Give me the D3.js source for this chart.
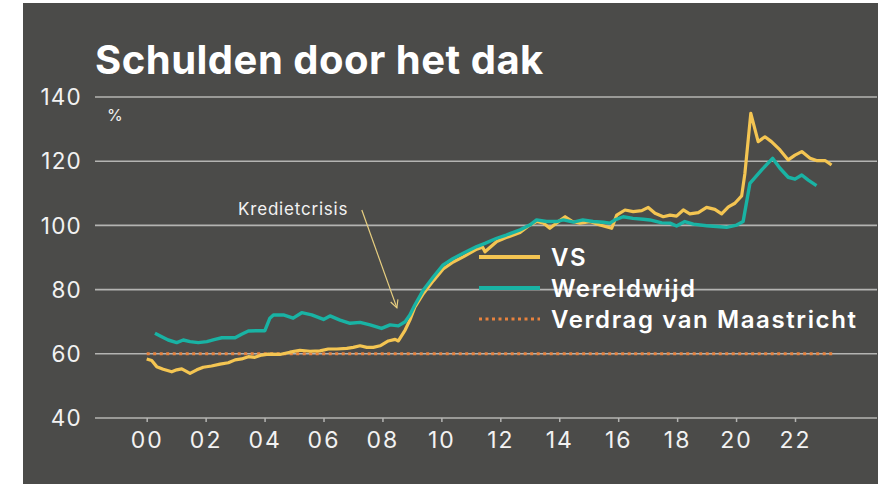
<!DOCTYPE html>
<html>
<head>
<meta charset="utf-8">
<script src="https://cdn.jsdelivr.net/npm/d3@7"></script>
<style>
  body { margin: 0; background: #fff; }
  svg { display: block; font-family: Inter, "Open Sans", sans-serif; }
</style>
</head>
<body>
<svg id="chart" width="889" height="484"></svg>
<script>
// quarterly-ish readings, [year, % of GDP]
const vs = [
  [2000.0, 58.4], [2000.17, 57.9], [2000.34, 56.0], [2000.56, 55.2], [2000.85, 54.4],
  [2001.02, 55.0], [2001.19, 55.3], [2001.47, 53.9], [2001.7, 55.0], [2001.92, 55.8],
  [2002.2, 56.2], [2002.49, 56.8], [2002.77, 57.2], [2003.0, 58.1], [2003.22, 58.4],
  [2003.45, 59.1], [2003.67, 58.9], [2003.9, 59.6], [2004.13, 59.9], [2004.52, 59.8],
  [2004.86, 60.5], [2005.2, 61.1], [2005.54, 60.8], [2005.88, 60.9], [2006.16, 61.5],
  [2006.45, 61.5], [2006.79, 61.7], [2007.01, 62.0], [2007.24, 62.5], [2007.47, 62.0],
  [2007.69, 62.0], [2007.92, 62.5], [2008.2, 64.0], [2008.43, 64.5], [2008.54, 64.0],
  [2008.77, 67.4], [2008.93, 70.5], [2009.1, 74.5], [2009.39, 78.8], [2009.73, 82.8],
  [2010.06, 86.4], [2010.4, 88.6], [2010.74, 90.2], [2011.2, 92.6], [2011.4, 93.2],
  [2011.48, 91.8], [2011.88, 95.0], [2012.2, 96.2], [2012.67, 97.8], [2013.0, 100.1],
  [2013.23, 101.2], [2013.45, 100.8], [2013.68, 99.1], [2013.9, 100.7], [2014.2, 102.7],
  [2014.45, 101.2], [2014.7, 100.7], [2015.04, 101.2], [2015.38, 100.1], [2015.78, 99.1],
  [2015.95, 103.2], [2016.23, 104.8], [2016.51, 104.3], [2016.8, 104.6], [2017.02, 105.6],
  [2017.25, 103.8], [2017.53, 102.7], [2017.76, 103.2], [2017.98, 102.9], [2018.21, 104.8],
  [2018.43, 103.6], [2018.72, 104.0], [2019.0, 105.6], [2019.28, 105.0], [2019.51, 103.6],
  [2019.74, 105.8], [2019.96, 106.9], [2020.19, 109.2], [2020.3, 116.2], [2020.5, 134.9],
  [2020.75, 126.1], [2020.98, 127.6], [2021.2, 126.1], [2021.49, 123.5], [2021.77, 120.4],
  [2022.0, 121.9], [2022.23, 123.0], [2022.51, 120.9], [2022.73, 120.2], [2023.02, 120.2],
  [2023.24, 118.8]
];

const wereldwijd = [
  [2000.28, 66.4], [2000.51, 65.3], [2000.73, 64.3], [2001.02, 63.5], [2001.24, 64.3],
  [2001.47, 63.8], [2001.75, 63.5], [2002.04, 63.8], [2002.32, 64.5], [2002.55, 65.0],
  [2002.77, 65.0], [2003.0, 65.0], [2003.22, 66.1], [2003.45, 67.1], [2003.73, 67.2],
  [2004.01, 67.2], [2004.18, 71.1], [2004.3, 72.1], [2004.64, 72.1], [2004.97, 71.1],
  [2005.26, 72.8], [2005.6, 72.1], [2006.0, 70.7], [2006.22, 71.8], [2006.56, 70.5],
  [2006.9, 69.5], [2007.24, 69.8], [2007.58, 69.0], [2007.97, 67.9], [2008.26, 69.0],
  [2008.54, 68.7], [2008.77, 70.0], [2008.93, 72.1], [2009.1, 75.2], [2009.39, 79.9],
  [2009.73, 84.0], [2010.06, 87.7], [2010.4, 89.7], [2010.74, 91.3], [2011.2, 93.4],
  [2011.48, 94.4], [2011.88, 96.0], [2012.2, 97.0], [2012.67, 98.6], [2013.0, 100.1],
  [2013.23, 101.7], [2013.57, 101.2], [2013.9, 101.2], [2014.14, 101.7], [2014.48, 101.0],
  [2014.8, 101.7], [2015.15, 101.2], [2015.5, 101.0], [2015.72, 100.7], [2015.89, 101.7],
  [2016.17, 102.7], [2016.5, 102.2], [2016.85, 101.9], [2017.08, 101.7], [2017.48, 100.8],
  [2017.76, 100.7], [2017.98, 99.8], [2018.26, 101.2], [2018.55, 100.4], [2019.0, 99.9],
  [2019.45, 99.6], [2019.68, 99.4], [2020.02, 100.1], [2020.24, 101.2], [2020.47, 113.1],
  [2020.87, 117.3], [2021.24, 120.9], [2021.49, 117.8], [2021.77, 115.0], [2022.0, 114.4],
  [2022.23, 115.7], [2022.45, 114.1], [2022.73, 112.4]
];

const maastricht = [[2000.0, 60], [2023.35, 60]];

const yTicks = [40, 60, 80, 100, 120, 140];
const xTicks = [2000, 2002, 2004, 2006, 2008, 2010, 2012, 2014, 2016, 2018, 2020, 2022];
const legendItems = ["VS", "Wereldwijd", "Verdrag van Maastricht"];

const svg = d3.select("#chart");

svg.append("rect")
  .attr("x", 23).attr("y", 3)
  .attr("width", 855).attr("height", 481)
  .attr("fill", "#4b4b49");

const x = d3.scaleLinear().domain([2000, 2022]).range([146.7, 795]);
const y = d3.scaleLinear().domain([40, 140]).range([418, 97]);

// gridlines
svg.append("g")
  .selectAll("line")
  .data(yTicks)
  .join("line")
  .attr("x1", 95).attr("x2", 877)
  .attr("y1", d => y(d)).attr("y2", d => y(d))
  .attr("stroke", "#b4b4b2")
  .attr("stroke-width", 1.6);

// y labels
svg.append("g")
  .selectAll("text")
  .data(yTicks)
  .join("text")
  .attr("x", 82)
  .attr("y", d => y(d))
  .attr("dy", "0.36em")
  .attr("text-anchor", "end")
  .attr("fill", "#f2f2f2")
  .style("font-size", "22.5px")
  .style("letter-spacing", "1.2px")
  .text(d => d);

// x axis
const xAxis = d3.axisBottom(x)
  .tickValues(xTicks)
  .tickSize(4)
  .tickFormat(d => String(d % 100).padStart(2, "0"));

const gx = svg.append("g")
  .attr("transform", `translate(0,${y(40)})`)
  .call(xAxis);
gx.select(".domain").remove();
gx.selectAll(".tick line").attr("stroke", "#b4b4b2").attr("stroke-width", 1.5);
gx.selectAll(".tick text")
  .attr("fill", "#f2f2f2")
  .attr("y", 14)
  .attr("dy", "0.71em")
  .style("font-size", "23px")
  .style("letter-spacing", "2px")
  .style("font-family", "Inter, sans-serif");

svg.append("text")
  .attr("x", 107).attr("y", 121)
  .attr("fill", "#f2f2f2")
  .style("font-size", "16px")
  .text("%");

// title
svg.append("text")
  .attr("x", 95).attr("y", 74)
  .attr("fill", "#ffffff")
  .style("font-size", "40px")
  .style("font-weight", 700)
  .style("letter-spacing", "0.5px")
  .text("Schulden door het dak");

const line = d3.line()
  .x(d => x(d[0]))
  .y(d => y(d[1]));

svg.append("path")
  .datum(maastricht)
  .attr("d", line)
  .attr("fill", "none")
  .attr("stroke", "#e8823e")
  .attr("stroke-width", 3)
  .attr("stroke-dasharray", "3,3.5");

svg.append("path")
  .datum(vs)
  .attr("d", line)
  .attr("fill", "none")
  .attr("stroke", "#f4c552")
  .attr("stroke-width", 3.2)
  .attr("stroke-linejoin", "round");

svg.append("path")
  .datum(wereldwijd)
  .attr("d", line)
  .attr("fill", "none")
  .attr("stroke", "#19b3a4")
  .attr("stroke-width", 3.4)
  .attr("stroke-linejoin", "round");

// annotation
const defs = svg.append("defs");
defs.append("marker")
  .attr("id", "arrow")
  .attr("viewBox", "0 0 10 10")
  .attr("refX", 9).attr("refY", 5)
  .attr("markerWidth", 8).attr("markerHeight", 8)
  .attr("orient", "auto")
  .append("path")
  .attr("d", "M1,1 L9,5 L1,9")
  .attr("fill", "none")
  .attr("stroke", "#e8cf80")
  .attr("stroke-width", 1.2);

svg.append("line")
  .attr("x1", x(2007.3)).attr("y1", y(104.8))
  .attr("x2", x(2008.49)).attr("y2", y(74.3))
  .attr("stroke", "#e8cf80")
  .attr("stroke-width", 1.2)
  .attr("marker-end", "url(#arrow)");

svg.append("text")
  .attr("x", x(2003.1)).attr("y", y(103.2))
  .attr("fill", "#f2f2f2")
  .style("font-size", "17px")
  .style("letter-spacing", "0.8px")
  .text("Kredietcrisis");

// legend
const legendColors = ["#f4c552", "#19b3a4", "#e8823e"];
const lg = svg.append("g");
legendItems.forEach((name, i) => {
  const ly = 257 + i * 31;
  lg.append("line")
    .attr("x1", 479).attr("x2", 540)
    .attr("y1", ly).attr("y2", ly)
    .attr("stroke", legendColors[i])
    .attr("stroke-width", i === 2 ? 3 : 4)
    .attr("stroke-dasharray", i === 2 ? "3,3.5" : null);
  lg.append("text")
    .attr("x", 551).attr("y", ly)
    .attr("dy", "0.36em")
    .attr("fill", "#ffffff")
    .style("font-size", "24px")
    .style("font-weight", 600)
    .style("letter-spacing", "1.6px")
    .text(name);
});
</script>
</body>
</html>
